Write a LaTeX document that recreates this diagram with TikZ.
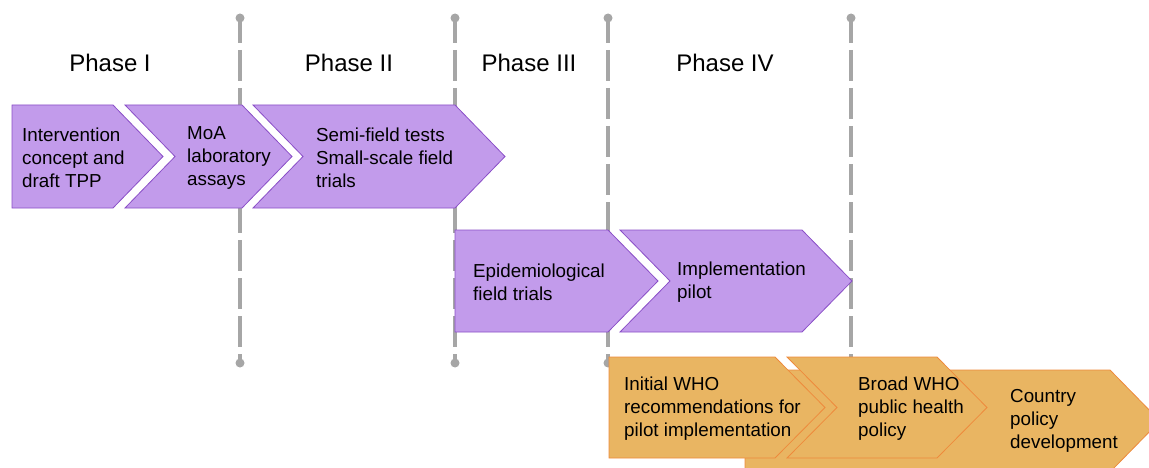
\documentclass[tikz,border=0pt]{standalone}
\usepackage{fontspec}
\setmainfont{Liberation Sans}
\definecolor{lilacfill}{HTML}{C29BEB}
\definecolor{lilacline}{HTML}{8A4FC7}
\definecolor{amberfill}{HTML}{E9B562}
\definecolor{amberline}{HTML}{EE8A3C}
\definecolor{phasegray}{HTML}{A6A6A6}
\tikzset{%
  lilac stage/.style={
    draw=lilacline,
    fill=lilacfill,
    line width=0.8pt
  },
  amber stage/.style={
    draw=amberline,
    fill=amberfill,
    line width=0.8pt
  },
  stage text/.style={
    anchor=west,
    align=left,
    inner sep=0pt,
    font=\fontsize{18.8}{23}\selectfont
  },
  phase text/.style={
    font=\fontsize{24}{28}\selectfont
  },
  phase dot/.style={
    circle,
    fill=phasegray,
    inner sep=0pt,
    minimum size=9pt
  },
  phase line/.style={
    draw=phasegray,
    line width=3.2pt,
    dash pattern=on 31pt off 7pt,
    dash phase=6pt
  },
}
% arrow box: style, left x, notch x, right x, top y, bottom y
\newcommand{\stagebox}[6]{%
  \draw [#1] (#2,#5) -- (#4,#5) -- ({#4+50},{(#5+#6)/2}) -- (#4,#6)
    -- (#2,#6) -- (#3,{(#5+#6)/2}) -- cycle;
}

\begin{document}
\begin{tikzpicture}[x=1pt, y=-1pt]

  \clip (0,0) rectangle (1149,468);
  \useasboundingbox (0,0) rectangle (1149,468);

  % Phase boundaries
  \foreach \x [count=\i] in {240,455,608,851}
    {
      \node [phase dot] (top-\i) at (\x,18) {};
      \node [phase dot] (bot-\i) at (\x,363) {};
      \draw [phase line] (top-\i.center) -- (bot-\i.center);
    }

  % Phase titles
  \foreach \l/\x [count=\i] in {I/110, II/349, III/529, IV/725}
    \node [phase text] (phase-\i) at (\x,63) {Phase \l};

  % Upper row
  \stagebox{lilac stage}{12}{12}{113}{105}{208}
  \stagebox{lilac stage}{125}{175}{242}{105}{208}
  \stagebox{lilac stage}{253}{303}{455}{105}{208}

  % Middle row
  \stagebox{lilac stage}{455}{455}{608}{230}{332}
  \stagebox{lilac stage}{620}{670}{802}{230}{332}

  % Lower row
  \stagebox{amber stage}{745}{745}{1110}{370}{472}
  \stagebox{amber stage}{609}{609}{775}{357}{458}
  \stagebox{amber stage}{787}{837}{937}{357}{458}

  % Texts in the boxes
  \node [stage text] (concept) at (22,158) {Intervention\\concept and\\draft TPP};
  \node [stage text] (moa) at (187,158) {MoA\\laboratory\\assays};
  \node [stage text] (semifield) at (316,158) {Semi-field tests\\Small-scale field\\trials};
  \node [stage text] (epi) at (473,282) {Epidemiological\\field trials};
  \node [stage text] (pilot) at (677,282) {Implementation\\pilot};
  \node [stage text] (initial) at (624,409) {Initial WHO\\recommendations for\\pilot implementation};
  \node [stage text] (broad) at (858,409) {Broad WHO\\public health\\policy};
  \node [stage text] (country) at (1010,421) {Country\\policy\\development};

\end{tikzpicture}
\end{document}
